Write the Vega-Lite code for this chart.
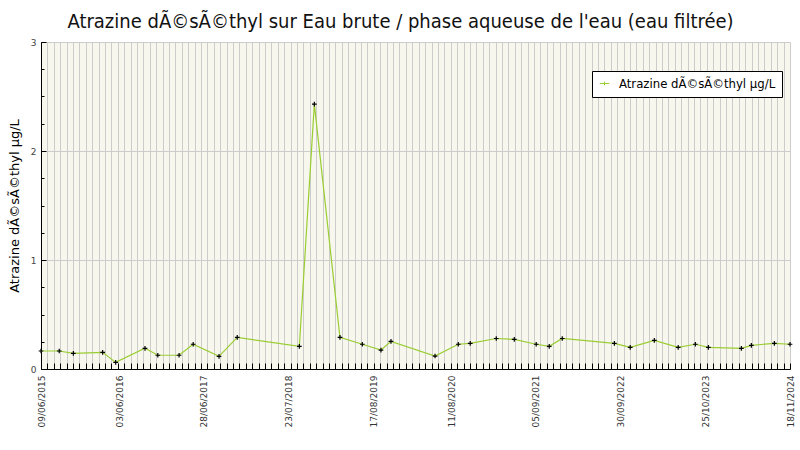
{
  "$schema": "https://vega.github.io/schema/vega-lite/v6.json",
  "width": 749,
  "height": 327,
  "autosize": "none",
  "padding": {"left": 41, "top": 42, "right": 10, "bottom": 81},
  "background": "white",
  "config": {
    "view": {"fill": "#f7f7ee", "stroke": null},
    "font": "DejaVu Sans"
  },
  "title": {
    "text": "Atrazine dÃ©sÃ©thyl sur Eau brute / phase aqueuse de l'eau (eau filtrée)",
    "font": "DejaVu Sans Condensed, DejaVu Sans",
    "fontSize": 20,
    "fontWeight": "normal",
    "color": "#111111",
    "anchor": "middle",
    "frame": "group",
    "dx": -15,
    "offset": 6
  },
  "data": {
    "values": [
      {"date": "2015-06-09", "value": 0.165},
      {"date": "2015-09-01", "value": 0.165},
      {"date": "2015-11-05", "value": 0.144},
      {"date": "2016-03-19", "value": 0.153},
      {"date": "2016-05-18", "value": 0.061},
      {"date": "2016-09-30", "value": 0.19},
      {"date": "2016-11-28", "value": 0.126},
      {"date": "2017-03-06", "value": 0.126},
      {"date": "2017-05-10", "value": 0.227},
      {"date": "2017-09-06", "value": 0.116},
      {"date": "2017-11-29", "value": 0.29},
      {"date": "2018-09-11", "value": 0.208},
      {"date": "2018-11-19", "value": 2.43},
      {"date": "2019-03-17", "value": 0.29},
      {"date": "2019-06-28", "value": 0.227},
      {"date": "2019-09-22", "value": 0.174},
      {"date": "2019-11-07", "value": 0.254},
      {"date": "2020-05-28", "value": 0.119},
      {"date": "2020-09-12", "value": 0.227},
      {"date": "2020-11-06", "value": 0.235},
      {"date": "2021-03-06", "value": 0.28},
      {"date": "2021-05-28", "value": 0.272},
      {"date": "2021-09-06", "value": 0.227},
      {"date": "2021-11-05", "value": 0.208},
      {"date": "2022-01-04", "value": 0.28},
      {"date": "2022-09-01", "value": 0.235},
      {"date": "2022-11-13", "value": 0.199},
      {"date": "2023-03-04", "value": 0.263},
      {"date": "2023-06-22", "value": 0.199},
      {"date": "2023-09-09", "value": 0.227},
      {"date": "2023-11-08", "value": 0.199},
      {"date": "2024-04-08", "value": 0.19},
      {"date": "2024-05-24", "value": 0.217},
      {"date": "2024-09-07", "value": 0.235},
      {"date": "2024-11-18", "value": 0.227}
    ]
  },
  "resolve": {"axis": {"x": "independent", "y": "independent"}},
  "layer": [
    {
      "mark": {"type": "line", "strokeWidth": 1.2, "clip": false},
      "encoding": {
        "x": {
          "field": "date",
          "type": "temporal",
          "scale": {"type": "utc", "domain": [1433808000000, 1731888000000], "nice": false},
          "axis": {
            "orient": "bottom",
            "title": null,
            "labels": false,
            "grid": true,
            "gridColor": "#cccccc",
            "gridWidth": 1,
            "gridOpacity": 1,
            "ticks": true,
            "tickSize": -6,
            "tickColor": "#000000",
            "tickWidth": 1,
            "domain": true,
            "domainColor": "#000000",
            "domainWidth": 1,
            "values": [
              1433808000000, 1436355692308, 1438903384615, 1441451076923, 1443998769231, 1446546461538, 1449094153846, 1451641846154, 1454189538462, 1456737230769, 1459284923077, 1461832615385, 1464380307692,
              1466928000000, 1469475692308, 1472023384615, 1474571076923, 1477118769231, 1479666461538, 1482214153846, 1484761846154, 1487309538462, 1489857230769, 1492404923077, 1494952615385, 1497500307692,
              1500048000000, 1502595692308, 1505143384615, 1507691076923, 1510238769231, 1512786461538, 1515334153846, 1517881846154, 1520429538462, 1522977230769, 1525524923077, 1528072615385, 1530620307692,
              1533168000000, 1535715692308, 1538263384615, 1540811076923, 1543358769231, 1545906461538, 1548454153846, 1551001846154, 1553549538462, 1556097230769, 1558644923077, 1561192615385, 1563740307692,
              1566288000000, 1568835692308, 1571383384615, 1573931076923, 1576478769231, 1579026461538, 1581574153846, 1584121846154, 1586669538462, 1589217230769, 1591764923077, 1594312615385, 1596860307692,
              1599408000000, 1601955692308, 1604503384615, 1607051076923, 1609598769231, 1612146461538, 1614694153846, 1617241846154, 1619789538462, 1622337230769, 1624884923077, 1627432615385, 1629980307692,
              1632528000000, 1635075692308, 1637623384615, 1640171076923, 1642718769231, 1645266461538, 1647814153846, 1650361846154, 1652909538462, 1655457230769, 1658004923077, 1660552615385, 1663100307692,
              1665648000000, 1668195692308, 1670743384615, 1673291076923, 1675838769231, 1678386461538, 1680934153846, 1683481846154, 1686029538462, 1688577230769, 1691124923077, 1693672615385, 1696220307692,
              1698768000000, 1701315692308, 1703863384615, 1706411076923, 1708958769231, 1711506461538, 1714054153846, 1716601846154, 1719149538462, 1721697230769, 1724244923077, 1726792615385, 1729340307692,
              1731888000000
            ]
          }
        },
        "y": {
          "field": "value",
          "type": "quantitative",
          "scale": {"domain": [0, 3], "nice": false, "zero": true},
          "axis": {
            "orient": "left",
            "title": null,
            "labels": false,
            "grid": false,
            "ticks": true,
            "tickSize": -3,
            "tickColor": "#000000",
            "domain": true,
            "domainColor": "#000000",
            "values": [0, 0.25, 0.5, 0.75, 1, 1.25, 1.5, 1.75, 2, 2.25, 2.5, 2.75, 3]
          }
        },
        "color": {
          "datum": "Atrazine dÃ©sÃ©thyl µg/L",
          "type": "nominal",
          "scale": {"range": ["#9acd32"]},
          "legend": {
            "orient": "none",
            "legendX": 551,
            "legendY": 29,
            "title": null,
            "fillColor": "#ffffff",
            "strokeColor": "#000000",
            "padding": 6,
            "symbolType": "M-1,0H1M0,-0.4V0.4",
            "symbolSize": 90,
            "symbolStrokeWidth": 1,
            "labelFont": "DejaVu Sans Condensed, DejaVu Sans",
            "labelFontSize": 13,
            "labelColor": "#000000",
            "labelOffset": 8,
            "labelLimit": 400
          }
        }
      }
    },
    {
      "mark": {"type": "point", "shape": "M-1,0H1M0,-1V1", "size": 22, "filled": false, "stroke": "#000000", "strokeWidth": 1.2, "opacity": 1, "clip": false},
      "encoding": {
        "x": {
          "field": "date",
          "type": "temporal",
          "axis": {
            "orient": "bottom",
            "title": null,
            "grid": false,
            "ticks": false,
            "domain": false,
            "labelAngle": 270,
            "labelFont": "DejaVu Sans",
            "labelFontSize": 9,
            "labelColor": "#333333",
            "labelPadding": 6,
            "labelOverlap": false,
            "format": "%d/%m/%Y",
            "values": [
              {"year": 2015, "month": 6, "date": 9, "utc": true},
              {"year": 2016, "month": 6, "date": 3, "utc": true},
              {"year": 2017, "month": 6, "date": 28, "utc": true},
              {"year": 2018, "month": 7, "date": 23, "utc": true},
              {"year": 2019, "month": 8, "date": 17, "utc": true},
              {"year": 2020, "month": 8, "date": 11, "utc": true},
              {"year": 2021, "month": 9, "date": 5, "utc": true},
              {"year": 2022, "month": 9, "date": 30, "utc": true},
              {"year": 2023, "month": 10, "date": 25, "utc": true},
              {"year": 2024, "month": 11, "date": 18, "utc": true}
            ]
          }
        },
        "y": {
          "field": "value",
          "type": "quantitative",
          "axis": {
            "orient": "left",
            "title": "Atrazine dÃ©sÃ©thyl µg/L",
            "titleFont": "DejaVu Sans",
            "titleFontSize": 13,
            "titleFontWeight": "normal",
            "titleColor": "#000000",
            "titlePadding": 9,
            "grid": true,
            "gridColor": "#cccccc",
            "gridOpacity": 1,
            "ticks": true,
            "tickSize": -5,
            "tickColor": "#000000",
            "domain": false,
            "labelFont": "DejaVu Sans",
            "labelFontSize": 9,
            "labelColor": "#444444",
            "labelPadding": 10,
            "format": "d",
            "values": [0, 1, 2, 3]
          }
        }
      }
    }
  ]
}
